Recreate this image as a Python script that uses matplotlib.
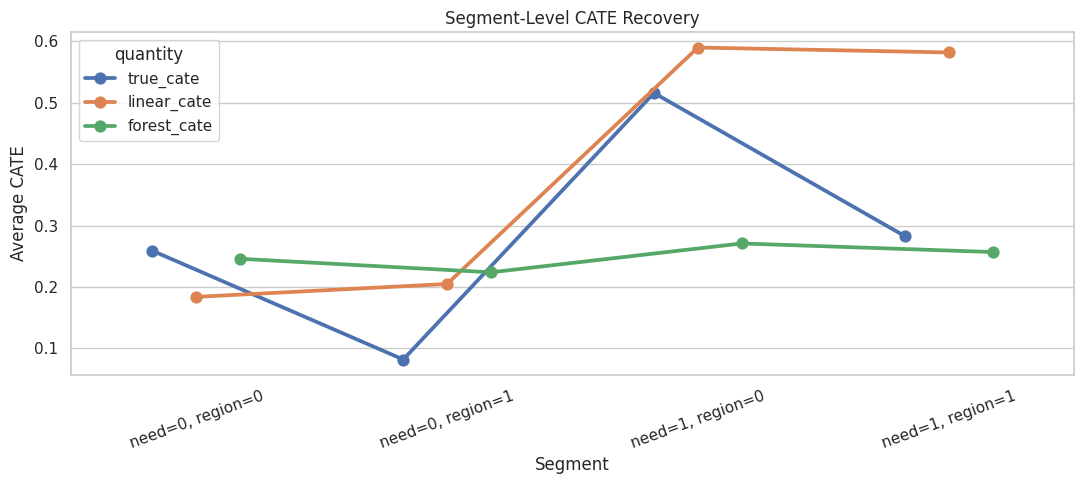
import matplotlib
matplotlib.use("Agg")
import matplotlib.pyplot as plt
import seaborn as sns
import pandas as pd

# segment-level averages
segments = ["need=0, region=0", "need=0, region=1", "need=1, region=0", "need=1, region=1"]
true_cate = [0.259, 0.082, 0.516, 0.283]
linear_cate = [0.184, 0.205, 0.590, 0.582]
forest_cate = [0.246, 0.224, 0.271, 0.257]

df = pd.DataFrame({"segment": segments, "true_cate": true_cate,
                   "linear_cate": linear_cate, "forest_cate": forest_cate})
long = df.melt(id_vars="segment", var_name="quantity", value_name="cate")

sns.set_theme(style="whitegrid")
fig, ax = plt.subplots(figsize=(10.84, 4.84), dpi=100)
sns.pointplot(data=long, x="segment", y="cate", hue="quantity",
              dodge=0.35, errorbar=None, ax=ax)
ax.set_title("Segment-Level CATE Recovery")
ax.set_xlabel("Segment")
ax.set_ylabel("Average CATE")
ax.tick_params(axis="x", rotation=20)
fig.subplots_adjust(left=0.0655, right=0.9908, top=0.934, bottom=0.225)
fig.savefig("out.png", dpi=100)
